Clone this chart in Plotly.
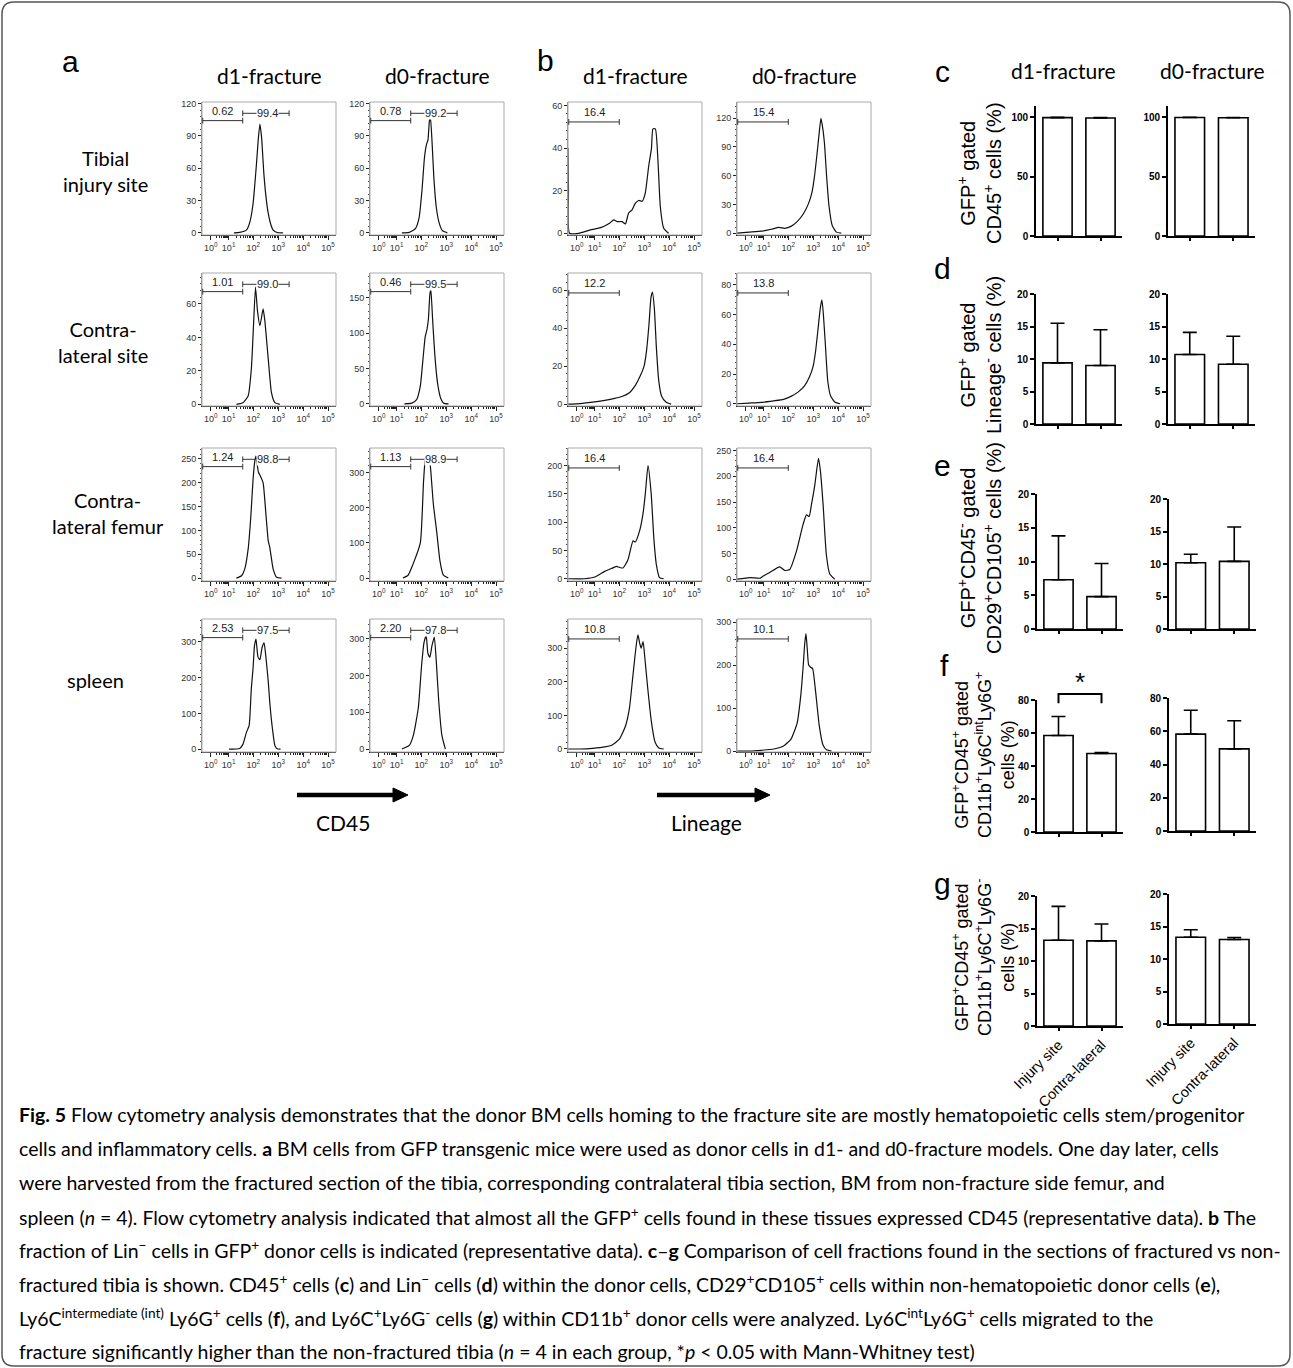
import numpy as np
import plotly.graph_objects as go

W, H = 1293, 1368

# ---------------- data ----------------
hist_tick_pos = [0.355, 1.085, 2.085, 3.105, 4.125, 5.135]
hist_tick_text = ["10<sup>0</sup>", "10<sup>1</sup>", "10<sup>2</sup>",
                  "10<sup>3</sup>", "10<sup>4</sup>", "10<sup>5</sup>"]

# panel a (CD45), d1-fracture
a_tib_d1_x = [1.30, 1.54, 1.81, 1.95, 2.08, 2.22, 2.29, 2.36, 2.43, 2.52, 2.61, 2.70, 2.80, 2.90, 3.06, 3.30]
a_tib_d1_y = [0, 0.5, 2.5, 10, 27, 64, 86, 101, 88, 55, 33, 18, 8, 2.5, 0.3, 0]
a_con_d1_x = [1.40, 1.67, 1.88, 2.01, 2.08, 2.18, 2.26, 2.36, 2.49, 2.56, 2.70, 2.83, 2.97, 3.17]
a_con_d1_y = [0, 1, 5, 21, 41, 70, 56, 47, 57, 50, 27, 7, 1, 0]
a_fem_d1_x = [1.40, 1.61, 1.74, 1.88, 1.99, 2.08, 2.15, 2.20, 2.25, 2.30, 2.38, 2.49, 2.60, 2.70, 2.76, 2.90, 3.04, 3.24]
a_fem_d1_y = [0, 5, 19, 61, 130, 207, 245, 256, 238, 222, 214, 200, 137, 78, 65, 19, 2, 0]
a_spl_d1_x = [1.10, 1.54, 1.67, 1.81, 1.92, 2.01, 2.08, 2.14, 2.20, 2.28, 2.36, 2.45, 2.53, 2.60, 2.70, 2.76, 2.87, 2.97, 3.06, 3.20]
a_spl_d1_y = [0, 2, 14, 47, 66, 170, 226, 290, 308, 258, 250, 285, 297, 260, 189, 132, 57, 10, 1, 0]
# panel a (CD45), d0-fracture
a_tib_d0_x = [1.30, 1.60, 1.85, 2.00, 2.12, 2.22, 2.30, 2.36, 2.42, 2.46, 2.52, 2.60, 2.70, 2.82, 2.95, 3.15]
a_tib_d0_y = [0, 0.5, 4, 14, 40, 70, 82, 86, 104, 108, 88, 52, 24, 9, 2, 0]
a_con_d0_x = [1.40, 1.70, 1.90, 2.05, 2.15, 2.25, 2.32, 2.38, 2.44, 2.48, 2.55, 2.64, 2.75, 2.88, 3.00, 3.20]
a_con_d0_y = [0, 1, 6, 25, 60, 95, 105, 120, 155, 162, 120, 70, 30, 8, 1, 0]
a_fem_d0_x = [1.34, 1.55, 1.75, 2.05, 2.18, 2.25, 2.30, 2.35, 2.40, 2.45, 2.58, 2.72, 2.85, 2.99, 3.19]
a_fem_d0_y = [0, 8, 39, 100, 273, 335, 340, 325, 338, 325, 212, 131, 49, 8, 0]
a_spl_d0_x = [1.30, 1.60, 1.77, 1.97, 2.10, 2.20, 2.29, 2.36, 2.44, 2.52, 2.62, 2.70, 2.80, 2.93, 3.07]
a_spl_d0_y = [0, 10, 38, 113, 226, 290, 308, 260, 250, 280, 305, 240, 131, 37, 0]

# panel b (Lineage), d1-fracture
b_tib_d1_x = [0.00, 0.02, 0.06, 0.43, 0.91, 1.25, 1.45, 1.72, 1.86, 2.00, 2.20, 2.34, 2.47, 2.61, 2.74, 2.88, 3.02, 3.15, 3.29, 3.40, 3.46, 3.56, 3.67, 3.76, 3.90, 4.10]
b_tib_d1_y = [40, 20, 0, 0, 1.6, 2.4, 3.2, 5, 6.3, 5.5, 5.5, 4.4, 9.5, 11, 14, 15.4, 15, 19, 31.7, 39.7, 49, 49, 33, 12.7, 2.4, 0]
b_con_d1_x = [0.00, 0.5, 1.0, 1.5, 1.9, 2.2, 2.5, 2.75, 2.95, 3.1, 3.2, 3.3, 3.38, 3.44, 3.52, 3.6, 3.7, 3.82, 4.0, 4.2]
b_con_d1_y = [0, 0.3, 1, 2, 3, 4, 6, 10, 15, 20, 28, 42, 56, 59, 50, 30, 12, 4, 1, 0]
b_fem_d1_x = [0.0, 0.68, 1.09, 1.49, 1.77, 1.97, 2.10, 2.24, 2.44, 2.65, 2.74, 2.92, 3.06, 3.15, 3.26, 3.39, 3.50, 3.60, 3.73, 3.90]
b_fem_d1_y = [0, 0, 3, 13, 18, 22, 20, 19, 33, 67, 65, 85, 116, 150, 200, 150, 70, 25, 2, 0]
b_spl_d1_x = [0.0, 0.5, 1.0, 1.5, 1.8, 2.1, 2.35, 2.5, 2.62, 2.72, 2.80, 2.85, 2.92, 2.98, 3.06, 3.12, 3.25, 3.40, 3.55, 3.70, 3.90]
b_spl_d1_y = [0, 0, 2, 6, 12, 30, 70, 120, 200, 270, 320, 340, 315, 300, 320, 280, 180, 80, 20, 3, 0]
# panel b (Lineage), d0-fracture
b_tib_d0_x = [0.0, 0.5, 1.0, 1.4, 1.7, 1.95, 2.2, 2.45, 2.7, 2.9, 3.05, 3.15, 3.25, 3.35, 3.42, 3.48, 3.56, 3.65, 3.75, 3.88, 4.05, 4.25]
b_tib_d0_y = [0, 1, 2, 4, 6, 5, 7, 12, 20, 30, 42, 58, 80, 105, 120, 112, 95, 60, 28, 8, 1, 0]
b_con_d0_x = [0.0, 0.5, 1.0, 1.5, 1.9, 2.2, 2.5, 2.75, 2.95, 3.1, 3.2, 3.3, 3.4, 3.46, 3.52, 3.6, 3.7, 3.82, 4.0, 4.2]
b_con_d0_y = [0, 0.5, 1, 2, 3, 5, 8, 12, 18, 25, 35, 50, 65, 70, 60, 40, 15, 5, 1, 0]
b_fem_d0_x = [0.0, 0.53, 0.94, 1.07, 1.33, 1.74, 1.94, 2.15, 2.42, 2.69, 2.83, 2.94, 3.03, 3.17, 3.32, 3.40, 3.51, 3.64, 3.78, 3.98]
b_fem_d0_y = [0, 3, 2, 6, 13, 24, 17, 19, 54, 106, 125, 122, 144, 183, 235, 210, 144, 48, 10, 0]
b_spl_d0_x = [0.0, 0.5, 1.0, 1.5, 1.9, 2.2, 2.45, 2.6, 2.7, 2.76, 2.81, 2.86, 2.92, 3.00, 3.08, 3.20, 3.35, 3.50, 3.65, 3.85]
b_spl_d0_y = [0, 0, 2, 5, 12, 28, 65, 130, 200, 250, 273, 240, 200, 195, 192, 140, 60, 15, 3, 0]

# gate percentages
a_left_pct_d1 = ["0.62", "1.01", "1.24", "2.53"]
a_right_pct_d1 = ["99.4", "99.0", "98.8", "97.5"]
a_left_pct_d0 = ["0.78", "0.46", "1.13", "2.20"]
a_right_pct_d0 = ["99.2", "99.5", "98.9", "97.8"]
b_pct_d1 = ["16.4", "12.2", "16.4", "10.8"]
b_pct_d0 = ["15.4", "13.8", "16.4", "10.1"]
a_gate_bounds = [0.03, 1.66, 3.55]
b_gate_bounds = [0.03, 2.09]

row_labels = ["Tibial<br>injury site", "Contra-<br>lateral site", "Contra-<br>lateral femur", "spleen"]
col_titles = ["d1-fracture", "d0-fracture"]

# bar charts c-g (mean, SD)
bar_categories = ["Injury site", "Contra-lateral"]
c_d1_mean = [99.5, 99.2]; c_d1_sd = [0.3, 0.4]
c_d0_mean = [99.6, 99.4]; c_d0_sd = [0.2, 0.2]
d_d1_mean = [9.4, 9.0];   d_d1_sd = [6.1, 5.5]
d_d0_mean = [10.7, 9.2];  d_d0_sd = [3.4, 4.3]
e_d1_mean = [7.3, 4.8];   e_d1_sd = [6.5, 4.9]
e_d0_mean = [10.2, 10.4]; e_d0_sd = [1.3, 5.3]
f_d1_mean = [58.5, 47.6]; f_d1_sd = [11.5, 0.6]
f_d0_mean = [58.3, 49.4]; f_d0_sd = [14.3, 16.9]
g_d1_mean = [13.2, 13.1]; g_d1_sd = [5.2, 2.6]
g_d0_mean = [13.35, 13.0]; g_d0_sd = [1.15, 0.3]

caption_lines = [
    "<b>Fig. 5</b> Flow cytometry analysis demonstrates that the donor BM cells homing to the fracture site are mostly hematopoietic cells stem/progenitor",
    "cells and inflammatory cells. <b>a</b> BM cells from GFP transgenic mice were used as donor cells in d1- and d0-fracture models. One day later, cells",
    "were harvested from the fractured section of the tibia, corresponding contralateral tibia section, BM from non-fracture side femur, and",
    "spleen (<i>n</i> = 4). Flow cytometry analysis indicated that almost all the GFP<sup>+</sup> cells found in these tissues expressed CD45 (representative data). <b>b</b> The",
    "fraction of Lin<sup>−</sup> cells in GFP<sup>+</sup> donor cells is indicated (representative data). <b>c</b>–<b>g</b> Comparison of cell fractions found in the sections of fractured vs non-",
    "fractured tibia is shown. CD45<sup>+</sup> cells (<b>c</b>) and Lin<sup>−</sup> cells (<b>d</b>) within the donor cells, CD29<sup>+</sup>CD105<sup>+</sup> cells within non-hematopoietic donor cells (<b>e</b>),",
    "Ly6C<sup>intermediate (int)</sup> Ly6G<sup>+</sup> cells (<b>f</b>), and Ly6C<sup>+</sup>Ly6G<sup>-</sup> cells (<b>g</b>) within CD11b<sup>+</sup> donor cells were analyzed. Ly6C<sup>int</sup>Ly6G<sup>+</sup> cells migrated to the",
    "fracture significantly higher than the non-fractured tibia (<i>n</i> = 4 in each group, *<i>p</i> &lt; 0.05 with Mann-Whitney test)",
]

# ---------------- helpers ----------------
def PX(p):
    return p / W

def PY(p):
    return 1 - p / H

def names(n):
    return ('x' if n == 1 else f'x{n}', 'y' if n == 1 else f'y{n}',
            'xaxis' if n == 1 else f'xaxis{n}', 'yaxis' if n == 1 else f'yaxis{n}')

fig = go.Figure()
layout = dict(width=W, height=H, autosize=False,
              margin=dict(l=0, r=0, t=0, b=0, pad=0, autoexpand=False),
              paper_bgcolor='white', plot_bgcolor='rgba(0,0,0,0)', showlegend=False)
shapes = []
annotations = []

SANS = "Lato, 'Open Sans', sans-serif"
ARIAL = "'Liberation Sans', Arial, sans-serif"

# minor ticks for the log axis
minor_x = []
for k in range(len(hist_tick_pos) - 1):
    span = hist_tick_pos[k + 1] - hist_tick_pos[k]
    for m in range(2, 10):
        minor_x.append(hist_tick_pos[k] + np.log10(m) * span)

hist_cols_px = [202, 370, 568, 737]
hist_rows_px = [102, 273, 448, 619]
HW, HH = 134, 133

hist_data = [
    [(a_tib_d1_x, a_tib_d1_y), (a_con_d1_x, a_con_d1_y), (a_fem_d1_x, a_fem_d1_y), (a_spl_d1_x, a_spl_d1_y)],
    [(a_tib_d0_x, a_tib_d0_y), (a_con_d0_x, a_con_d0_y), (a_fem_d0_x, a_fem_d0_y), (a_spl_d0_x, a_spl_d0_y)],
    [(b_tib_d1_x, b_tib_d1_y), (b_con_d1_x, b_con_d1_y), (b_fem_d1_x, b_fem_d1_y), (b_spl_d1_x, b_spl_d1_y)],
    [(b_tib_d0_x, b_tib_d0_y), (b_con_d0_x, b_con_d0_y), (b_fem_d0_x, b_fem_d0_y), (b_spl_d0_x, b_spl_d0_y)],
]
hist_yranges = [
    [(-2, 121.5), (-1, 78.5), (-6, 273), (-8, 364)],
    [(-2, 121.5), (-3, 185), (-8.5, 371), (-8, 354)],
    [(-0.8, 61.6), (-1, 69), (-4, 231), (-9, 387)],
    [(-2, 137), (-1.5, 88), (-3.5, 255), (-2, 307)],
]
hist_dticks = [
    [30, 20, 50, 100],
    [30, 50, 100, 100],
    [20, 20, 50, 100],
    [30, 20, 50, 100],
]

n = 0
for c in range(4):
    for r in range(4):
        n += 1
        xa, ya, xk, yk = names(n)
        hx, hy = hist_data[c][r]
        fig.add_trace(go.Scatter(x=hx, y=hy, xaxis=xa, yaxis=ya, mode='lines',
                                 line=dict(color='#111', width=1.2, shape='spline', smoothing=0.5),
                                 hoverinfo='skip'))
        x0 = hist_cols_px[c]; y0 = hist_rows_px[r]
        dt = hist_dticks[c][r]
        layout[xk] = dict(domain=[PX(x0), PX(x0 + HW)], anchor=ya, range=[0, 5.46],
                          tickmode='array', tickvals=hist_tick_pos, ticktext=hist_tick_text,
                          ticks='outside', ticklen=4, tickwidth=1, tickcolor='#222',
                          minor=dict(tickmode='array', tickvals=minor_x, ticklen=2, ticks='outside', tickcolor='#222'),
                          showline=True, linecolor='#222', linewidth=1.2,
                          tickfont=dict(family=ARIAL, size=9, color='#333'),
                          showgrid=False, zeroline=False, automargin=False)
        layout[yk] = dict(domain=[PY(y0 + HH), PY(y0)], anchor=xa, range=list(hist_yranges[c][r]),
                          tick0=0, dtick=dt, ticks='outside', ticklen=3, tickwidth=1, tickcolor='#222',
                          minor=dict(dtick=dt / 5, ticklen=1.5, ticks='outside', tickcolor='#444'),
                          showline=True, linecolor='#888', linewidth=1,
                          tickfont=dict(family=ARIAL, size=9, color='#333'),
                          showgrid=False, zeroline=False, automargin=False)
        # light frame
        shapes.append(dict(type='rect', xref=f'{xa} domain', yref=f'{ya} domain',
                           x0=0, x1=1, y0=0, y1=1, line=dict(color='#aaa', width=1)))
        gl = dict(color='#333', width=1)
        if c < 2:
            lp = (a_left_pct_d1 if c == 0 else a_left_pct_d0)[r]
            rp = (a_right_pct_d1 if c == 0 else a_right_pct_d0)[r]
            g0, g1, g2 = a_gate_bounds
            for (sx0, sx1, sy) in [(g0, g1, 0.86), (g1, g2, 0.915)]:
                shapes.append(dict(type='line', xref=xa, yref=f'{ya} domain', x0=sx0, x1=sx1, y0=sy, y1=sy, line=gl))
                for xv in (sx0, sx1):
                    shapes.append(dict(type='line', xref=xa, yref=f'{ya} domain', x0=xv, x1=xv,
                                       y0=sy - 0.022, y1=sy + 0.022, line=gl))
            annotations.append(dict(xref=xa, yref=f'{ya} domain', x=(g0 + g1) / 2, y=0.935, text=lp,
                                    xanchor='center', yanchor='middle',
                                    showarrow=False, font=dict(family=ARIAL, size=11, color='#222')))
            annotations.append(dict(xref=xa, yref=f'{ya} domain', x=(g1 + g2) / 2 + 0.05, y=0.915, text=rp,
                                    xanchor='center', yanchor='middle',
                                    showarrow=False, bgcolor='white', borderpad=0,
                                    font=dict(family=ARIAL, size=11, color='#222')))
        else:
            pct = (b_pct_d1 if c == 2 else b_pct_d0)[r]
            g0, g1 = b_gate_bounds
            shapes.append(dict(type='line', xref=xa, yref=f'{ya} domain', x0=g0, x1=g1, y0=0.85, y1=0.85, line=gl))
            for xv in (g0, g1):
                shapes.append(dict(type='line', xref=xa, yref=f'{ya} domain', x0=xv, x1=xv,
                                   y0=0.85 - 0.022, y1=0.85 + 0.022, line=gl))
            annotations.append(dict(xref=xa, yref=f'{ya} domain', x=(g0 + g1) / 2, y=0.925, text=pct,
                                    xanchor='center', yanchor='middle',
                                    showarrow=False, font=dict(family=ARIAL, size=11, color='#222')))

# ---------------- bar charts ----------------
bar_specs = [
    # (means, sds, ymax, tickvals, x_px, y_top, y_bot, show labels)
    (c_d1_mean, c_d1_sd, 109.3, [0, 50, 100], (1036, 1122), 106, 236, False),
    (c_d0_mean, c_d0_sd, 109.3, [0, 50, 100], (1168, 1255), 106, 236, False),
    (d_d1_mean, d_d1_sd, 20, [0, 5, 10, 15, 20], (1036, 1122), 294, 424, False),
    (d_d0_mean, d_d0_sd, 20, [0, 5, 10, 15, 20], (1168, 1255), 294, 424, False),
    (e_d1_mean, e_d1_sd, 20, [0, 5, 10, 15, 20], (1037, 1123), 494, 629, False),
    (e_d0_mean, e_d0_sd, 20, [0, 5, 10, 15, 20], (1169, 1256), 499, 629, False),
    (f_d1_mean, f_d1_sd, 80, [0, 20, 40, 60, 80], (1037, 1123), 700, 832, False),
    (f_d0_mean, f_d0_sd, 80, [0, 20, 40, 60, 80], (1169, 1256), 698, 831, False),
    (g_d1_mean, g_d1_sd, 20, [0, 5, 10, 15, 20], (1037, 1123), 896, 1026, True),
    (g_d0_mean, g_d0_sd, 20, [0, 5, 10, 15, 20], (1169, 1256), 894, 1024, True),
]
bar_axes = []
for (means, sds, ymax, tv, xpx, yt, yb, showlab) in bar_specs:
    n += 1
    xa, ya, xk, yk = names(n)
    bar_axes.append((xa, ya))
    fig.add_trace(go.Bar(x=bar_categories, y=means, xaxis=xa, yaxis=ya, width=0.68,
                         marker=dict(color='white', line=dict(color='black', width=1.6)),
                         error_y=dict(type='data', array=sds, arrayminus=[0] * len(sds), symmetric=False,
                                      color='black', thickness=1.6, width=7),
                         hoverinfo='skip'))
    layout[xk] = dict(domain=[PX(xpx[0]), PX(xpx[1])], anchor=ya, range=[-0.5, 1.5], type='category',
                      showline=True, linecolor='black', linewidth=1.6,
                      ticks='outside', ticklen=3, tickwidth=1.6, tickcolor='black',
                      showticklabels=showlab, tickangle=-45,
                      tickfont=dict(family=ARIAL, size=14.5, color='black'),
                      showgrid=False, zeroline=False, automargin=False)
    layout[yk] = dict(domain=[PY(yb), PY(yt)], anchor=xa, range=[0, ymax], tickmode='array', tickvals=tv,
                      showline=True, linecolor='black', linewidth=1.6,
                      ticks='outside', ticklen=4, tickwidth=1.6, tickcolor='black',
                      tickfont=dict(family=ARIAL, size=10, color='black', weight='bold'),
                      showgrid=False, zeroline=False, automargin=False)

# significance bracket (f, d1)
fxa, fya = bar_axes[6]
shapes.append(dict(type='path', xref=f'{fxa} domain', yref=f'{fya} domain',
                   path='M 0.25,0.975 L 0.25,1.045 L 0.75,1.045 L 0.75,0.975',
                   line=dict(color='black', width=2)))
annotations.append(dict(xref=f'{fxa} domain', yref=f'{fya} domain', x=0.5, y=1.14, text='*',
                        xanchor='center', yanchor='middle',
                        showarrow=False, font=dict(family=ARIAL, size=26, color='black')))

# ---------------- text ----------------
def text(x, y, s, size, family=SANS, xanchor='center', **kw):
    annotations.append(dict(xref='paper', yref='paper', x=PX(x), y=PY(y), text=s, showarrow=False,
                            xanchor=xanchor, yanchor='middle',
                            font=dict(family=family, size=size, color='black'), **kw))

# panel letters
for (lx, ly, s) in [(70, 62, 'a'), (545, 60, 'b'), (942, 72, 'c'), (942, 268, 'd'),
                    (942, 465, 'e'), (944, 665, 'f'), (942, 883, 'g')]:
    text(lx, ly, s, 30, ARIAL)

# column titles
for i, cx in enumerate([269, 437, 635, 804]):
    text(cx, 75, col_titles[i % 2], 21)
text(1063, 70, col_titles[0], 21)
text(1212, 70, col_titles[1], 21)

# row labels
for (rx, ry, s) in zip([105, 103, 108, 95], [171, 342, 513, 680], row_labels):
    text(rx, ry, s, 20)

# axis names with arrows
for (x0a, x1a, lab, lx) in [(297, 408, 'CD45', 343), (657, 770, 'Lineage', 706)]:
    shapes.append(dict(type='line', xref='paper', yref='paper', x0=PX(x0a), x1=PX(x1a - 13),
                       y0=PY(795), y1=PY(795), line=dict(color='black', width=4.5)))
    shapes.append(dict(type='path', xref='paper', yref='paper',
                       path=f'M {PX(x1a-15)},{PY(788)} L {PX(x1a)},{PY(795)} L {PX(x1a-15)},{PY(802)} Z',
                       fillcolor='black', line=dict(color='black', width=1)))
    text(lx, 822, lab, 21)

# bar y-axis titles
ytitles = [
    (979, 173, "GFP<sup>+</sup> gated<br>CD45<sup>+</sup> cells (%)", 20),
    (979, 355, "GFP<sup>+</sup> gated<br>Lineage<sup>-</sup> cells (%)", 20),
    (979, 548, "GFP<sup>+</sup>CD45<sup>-</sup> gated<br>CD29<sup>+</sup>CD105<sup>+</sup> cells (%)", 20),
    (983, 755, "GFP<sup>+</sup>CD45<sup>+</sup> gated<br>CD11b<sup>+</sup>Ly6C<sup>int</sup>Ly6G<sup>+</sup><br>cells (%)", 18),
    (983, 958, "GFP<sup>+</sup>CD45<sup>+</sup> gated<br>CD11b<sup>+</sup>Ly6C<sup>+</sup>Ly6G<sup>-</sup><br>cells (%)", 18),
]
for (tx, ty, s, fs) in ytitles:
    text(tx, ty, s, fs, ARIAL, textangle=-90)

# caption
cap_y = [1114, 1148, 1182, 1216, 1249, 1283, 1317, 1351]
for yy, line in zip(cap_y, caption_lines):
    text(17, yy, line, 19.5, SANS, xanchor='left', align='left')

# outer rounded border
bx0, by0, bx1, by1, rr = 2, 2, 1290, 1366, 12
border = (f"M {PX(bx0+rr)},{PY(by0)} L {PX(bx1-rr)},{PY(by0)} Q {PX(bx1)},{PY(by0)} {PX(bx1)},{PY(by0+rr)} "
          f"L {PX(bx1)},{PY(by1-rr)} Q {PX(bx1)},{PY(by1)} {PX(bx1-rr)},{PY(by1)} "
          f"L {PX(bx0+rr)},{PY(by1)} Q {PX(bx0)},{PY(by1)} {PX(bx0)},{PY(by1-rr)} "
          f"L {PX(bx0)},{PY(by0+rr)} Q {PX(bx0)},{PY(by0)} {PX(bx0+rr)},{PY(by0)} Z")
shapes.append(dict(type='path', xref='paper', yref='paper', path=border,
                   line=dict(color='#555', width=1.5)))

layout['shapes'] = shapes
layout['annotations'] = annotations
fig.update_layout(**layout)
fig.write_html("out.html", config={'displayModeBar': False},
               post_script="document.body.style.margin='0';")
